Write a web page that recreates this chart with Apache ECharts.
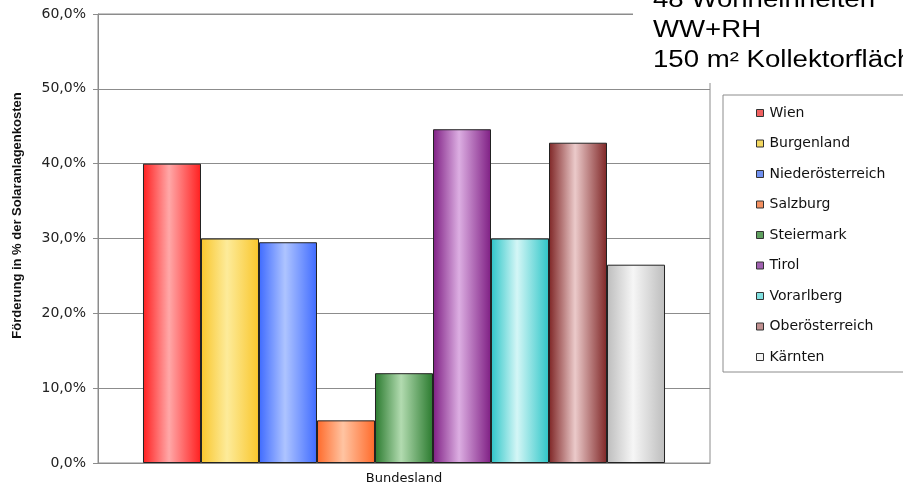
<!DOCTYPE html>
<html>
<head>
<meta charset="utf-8">
<script src="https://cdn.jsdelivr.net/npm/echarts@6/dist/echarts.min.js"></script>
<style>
  html, body { margin: 0; padding: 0; background: #fff; }
  #chart { width: 903px; height: 493px; }
</style>
</head>
<body>
<div id="chart"></div>
<script>
// data
const categories = ['Bundesland'];
const states = ['Wien', 'Burgenland', 'Niederösterreich', 'Salzburg', 'Steiermark',
  'Tirol', 'Vorarlberg', 'Oberösterreich', 'Kärnten'];
const values = [40.0, 30.0, 29.5, 5.7, 12.0, 44.6, 30.0, 42.8, 26.5];
const yMin = 0;
const yMax = 60;
const yStep = 10;
const noteLines = ['48 Wohneinheiten', 'WW+RH', '150 m² Kollektorfläche'];

// bar colours: edge (dark) and middle (light)
const edgeColors = ['#ff1f1f', '#f9c62c', '#3f6bff', '#ff6a2a', '#2a7a2e', '#7f1f84', '#2ec6c8', '#7f2626', '#bdbdbd'];
const lightColors = ['#ffa8a8', '#fdeb9a', '#aec4ff', '#ffc4a2', '#b2dbb0', '#dcaee2', '#d4f6f6', '#ebcaca', '#f6f6f6'];
const iconColors = ['#f06060', '#f4d860', '#7090f0', '#f49060', '#60a060', '#a060b0', '#80e0e0', '#c09090', '#f4f4f4'];

const chart = echarts.init(document.getElementById('chart'));

const series = states.map((name, i) => ({
  type: 'bar',
  name: name,
  data: [values[i]],
  barGap: '0%',
  barCategoryGap: '14.7%',
  itemStyle: {
    color: new echarts.graphic.LinearGradient(0, 0, 1, 0, [
      { offset: 0, color: edgeColors[i] },
      { offset: 0.45, color: lightColors[i] },
      { offset: 1, color: edgeColors[i] }
    ]),
    borderColor: '#222',
    borderWidth: 1
  }
}));

chart.setOption({
  backgroundColor: '#fff',
  animation: false,
  grid: {
    left: 98,
    right: 193,
    top: 14,
    bottom: 30,
    show: true,
    borderColor: '#8c8c8c',
    borderWidth: 1
  },
  legend: {
    orient: 'vertical',
    left: 751,
    top: 100,
    icon: 'rect',
    itemWidth: 7,
    itemHeight: 7,
    itemGap: 14.5,
    textStyle: {
      fontFamily: 'DejaVu Sans',
      fontSize: 14,
      color: '#111',
      lineHeight: 16,
      padding: [0, 0, 0, 1]
    },
    data: states.map((name, i) => ({
      name: name,
      itemStyle: { color: iconColors[i], borderColor: '#333', borderWidth: 1 }
    }))
  },
  xAxis: {
    type: 'category',
    data: categories,
    axisLine: { lineStyle: { color: '#8c8c8c' } },
    axisTick: { lineStyle: { color: '#8c8c8c' }, length: 5 },
    axisLabel: {
      fontFamily: 'DejaVu Sans',
      fontSize: 13,
      color: '#111',
      margin: 9
    }
  },
  yAxis: {
    type: 'value',
    min: yMin,
    max: yMax,
    interval: yStep,
    name: 'Förderung in % der Solaranlagenkosten',
    nameLocation: 'middle',
    nameGap: 74,
    nameTextStyle: {
      fontFamily: 'Liberation Sans',
      fontWeight: 'bold',
      fontSize: 13,
      color: '#111',
      padding: [0, 0, 0, 46]
    },
    axisLine: { show: true, lineStyle: { color: '#8c8c8c' } },
    axisTick: { show: true, length: 5, lineStyle: { color: '#8c8c8c' } },
    axisLabel: {
      fontFamily: 'DejaVu Sans',
      fontSize: 14,
      color: '#222',
      margin: 12,
      formatter: v => v.toFixed(1).replace('.', ',') + '%'
    },
    splitLine: { lineStyle: { color: '#8c8c8c', width: 1 } }
  },
  series: series,
  graphic: [
    {
      type: 'rect',
      shape: { x: 633, y: 0, width: 270, height: 83 },
      style: { fill: '#fff' },
      z: 100
    },
    {
      type: 'rect',
      shape: { x: 723, y: 95, width: 200, height: 277 },
      style: { fill: 'none', stroke: '#8c8c8c', lineWidth: 1 },
      z: 100
    }
  ].concat(noteLines.map((t, i) => ({
    type: 'text',
    x: 653,
    y: 1 + i * 30,
    scaleX: 1.2,
    z: 101,
    style: {
      text: t,
      fontFamily: 'Liberation Sans',
      fontSize: 23,
      fill: '#000',
      verticalAlign: 'middle'
    }
  })))
});
</script>
</body>
</html>
